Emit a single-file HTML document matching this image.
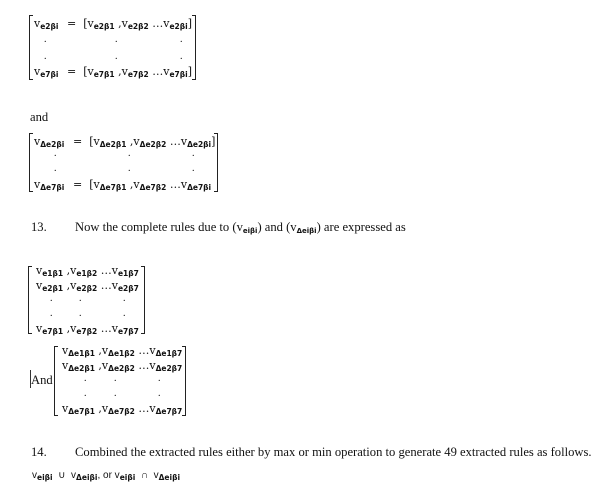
<!DOCTYPE html>
<html><head><meta charset="utf-8"><style>
html,body{margin:0;padding:0;background:#fff;width:602px;height:492px;overflow:hidden;position:relative;color:#111}
.t{position:absolute;white-space:nowrap;font-family:"DejaVu Serif",serif;font-size:11px;line-height:11px}
.p{position:absolute;white-space:nowrap;font-family:"Liberation Serif",serif;font-size:12.6px;line-height:13px}
sub{font-family:"DejaVu Sans",sans-serif;font-size:7.5px;vertical-align:-2px;line-height:0;font-weight:bold}
.p sub{font-size:7px}
.lb{position:absolute;border:1.3px solid #222;border-right:none;width:3px}
.rb{position:absolute;border:1.3px solid #222;border-left:none;width:3px}
.d{position:absolute;font-size:10px;line-height:10px;font-family:"Liberation Serif",serif}
</style></head><body>

<!-- Block 1 -->
<div class="lb" style="left:29px;top:15px;height:63px"></div>
<div class="t" style="left:34px;top:18px">v<sub>e2βi</sub></div>
<div class="t" style="left:67px;top:18px">= &nbsp;[v<sub>e2β1</sub> ,v<sub>e2β2</sub> …v<sub>e2βi</sub>]</div>
<div class="rb" style="left:192px;top:15px;height:63px"></div>
<div class="d" style="left:44px;top:35px">.</div><div class="d" style="left:115px;top:35px">.</div><div class="d" style="left:180px;top:35px">.</div>
<div class="d" style="left:44px;top:52px">.</div><div class="d" style="left:115px;top:52px">.</div><div class="d" style="left:180px;top:52px">.</div>
<div class="t" style="left:34px;top:66px">v<sub>e7βi</sub></div>
<div class="t" style="left:67px;top:66px">= &nbsp;[v<sub>e7β1</sub> ,v<sub>e7β2</sub> …v<sub>e7βi</sub>]</div>

<div class="p" style="left:30px;top:111px">and</div>

<!-- Block 2 -->
<div class="lb" style="left:29px;top:133px;height:57px"></div>
<div class="t" style="left:34px;top:136px">v<sub>Δe2βi</sub></div>
<div class="t" style="left:73px;top:136px">= &nbsp;[v<sub>Δe2β1</sub> ,v<sub>Δe2β2</sub> …v<sub>Δe2βi</sub>]</div>
<div class="rb" style="left:214px;top:133px;height:57px"></div>
<div class="d" style="left:54px;top:149px">.</div><div class="d" style="left:128px;top:149px">.</div><div class="d" style="left:192px;top:149px">.</div>
<div class="d" style="left:54px;top:164px">.</div><div class="d" style="left:128px;top:164px">.</div><div class="d" style="left:192px;top:164px">.</div>
<div class="t" style="left:34px;top:179px">v<sub>Δe7βi</sub></div>
<div class="t" style="left:73px;top:179px">= &nbsp;[v<sub>Δe7β1</sub> ,v<sub>Δe7β2</sub> …v<sub>Δe7βi</sub></div>

<!-- 13 -->
<div class="p" style="left:31px;top:221px">13.</div>
<div class="p" style="left:75px;top:221px">Now the complete rules due to (v<sub>eiβi</sub>) and (v<sub>Δeiβi</sub>) are expressed as</div>

<!-- Matrix 3 -->
<div class="lb" style="left:28px;top:266px;height:66px"></div>
<div class="rb" style="left:141px;top:266px;height:66px"></div>
<div class="t" style="left:36px;top:265px">v<sub>e1β1</sub> ,v<sub>e1β2</sub> …v<sub>e1β7</sub></div>
<div class="t" style="left:36px;top:280px">v<sub>e2β1</sub> ,v<sub>e2β2</sub> …v<sub>e2β7</sub></div>
<div class="d" style="left:50px;top:294px">.</div><div class="d" style="left:79px;top:294px">.</div><div class="d" style="left:123px;top:294px">.</div>
<div class="d" style="left:50px;top:309px">.</div><div class="d" style="left:79px;top:309px">.</div><div class="d" style="left:123px;top:309px">.</div>
<div class="t" style="left:36px;top:323px">v<sub>e7β1</sub> ,v<sub>e7β2</sub> …v<sub>e7β7</sub></div>

<!-- Matrix 4 -->
<div style="position:absolute;left:30px;top:370px;width:1px;height:18px;background:#333"></div>
<div class="p" style="left:31px;top:374px">And</div>
<div class="lb" style="left:54px;top:346px;height:68px"></div>
<div class="rb" style="left:182px;top:346px;height:68px"></div>
<div class="t" style="left:62px;top:345px">v<sub>Δe1β1</sub> ,v<sub>Δe1β2</sub> …v<sub>Δe1β7</sub></div>
<div class="t" style="left:62px;top:360px">v<sub>Δe2β1</sub> ,v<sub>Δe2β2</sub> …v<sub>Δe2β7</sub></div>
<div class="d" style="left:84px;top:374px">.</div><div class="d" style="left:114px;top:374px">.</div><div class="d" style="left:158px;top:374px">.</div>
<div class="d" style="left:84px;top:389px">.</div><div class="d" style="left:114px;top:389px">.</div><div class="d" style="left:158px;top:389px">.</div>
<div class="t" style="left:62px;top:403px">v<sub>Δe7β1</sub> ,v<sub>Δe7β2</sub> …v<sub>Δe7β7</sub></div>

<!-- 14 -->
<div class="p" style="left:31px;top:446px">14.</div>
<div class="p" style="left:75px;top:446px">Combined the extracted rules either by max or min operation to generate 49 extracted rules as follows.</div>
<div class="t" style="left:32px;top:470px;font-family:'Liberation Sans',sans-serif;font-size:10px">v<sub>eiβi</sub> &nbsp;∪ &nbsp;v<sub>Δeiβi</sub>, or v<sub>eiβi</sub> &nbsp;∩ &nbsp;v<sub>Δeiβi</sub></div>

</body></html>
